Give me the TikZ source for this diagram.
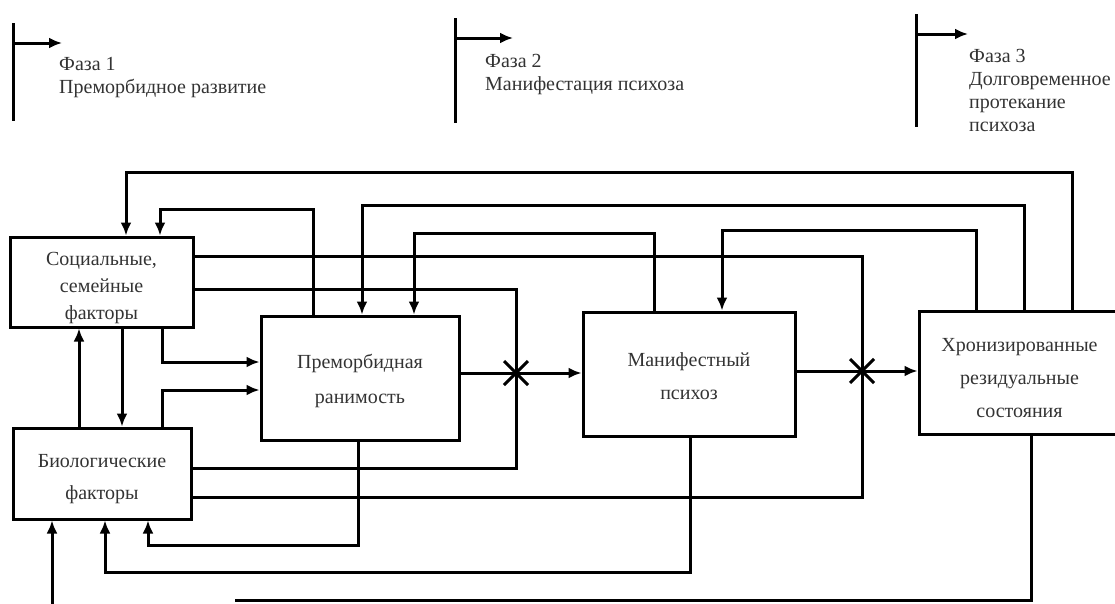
\documentclass[tikz,border=0pt]{standalone}
\usepackage{fontspec}
\setmainfont{Liberation Serif}
\usetikzlibrary{arrows.meta,shapes.misc}
\begin{document}
\begin{tikzpicture}[x=1pt,y=-1pt,
  box/.style={draw, line width=3pt, inner sep=0pt, align=center, text=black!80},
  conn/.style={line width=3pt},
  arr/.style={conn, -{Latex[length=13pt,width=11pt]}},
  lbl/.style={inner sep=0pt, align=left, anchor=base west, text=black!80, font=\fontsize{20}{23}\selectfont},
  xmark/.style={cross out, draw, line width=3pt, minimum size=21pt, inner sep=0pt}]
\useasboundingbox (0,0) rectangle (1115,603);

% phase markers
\coordinate (p1t) at (13,23);  \coordinate (p1b) at (13,121);
\coordinate (p2t) at (455,18); \coordinate (p2b) at (455,123);
\coordinate (p3t) at (916,14); \coordinate (p3b) at (916,127);
\draw[conn] (p1t) -- (p1b);
\draw[conn] (p2t) -- (p2b);
\draw[conn] (p3t) -- (p3b);
\coordinate (a1) at (62,43);  \coordinate (a2) at (513,38); \coordinate (a3) at (968,34);
\draw[arr] (p1t |- a1) -- (a1);
\draw[arr] (p2t |- a2) -- (a2);
\draw[arr] (p3t |- a3) -- (a3);
\node[lbl] (f1) at (59,93) {Фаза 1\\Преморбидное развитие};
\node[lbl] (f2) at (485,90) {Фаза 2\\Манифестация психоза};
\node[lbl] (f3) at (969,131) {Фаза 3\\Долговременное\\протекание\\психоза};

% boxes
\node[box, minimum width=183pt, minimum height=90pt, font=\fontsize{20}{27}\selectfont] (S) at (101.5,282) {\rule{0pt}{25pt}Социальные,\\семейные\\факторы};
\node[box, minimum width=178pt, minimum height=91pt, font=\fontsize{20}{32}\selectfont] (B) at (102,473.5) {\rule{0pt}{25pt}Биологические\\факторы};
\node[box, minimum width=198pt, minimum height=124pt, font=\fontsize{20}{35}\selectfont] (P) at (360,378) {\rule{0pt}{21pt}Преморбидная\\ранимость};
\node[box, minimum width=212pt, minimum height=124pt, font=\fontsize{20}{33}\selectfont] (M) at (689,374) {\rule{0pt}{19pt}Манифестный\\психоз};
\node[box, minimum width=201pt, minimum height=123pt, font=\fontsize{20}{33}\selectfont] (C) at (1019.5,372.5) {\rule{0pt}{25pt}Хронизированные\\резидуальные\\состояния};

% interaction marks
\node[xmark] (X1) at (516,373) {};
\node[xmark] (X2) at (862,371) {};

% main flow
\draw[conn] (P.east |- X1) -- (X1.center);
\draw[arr] (X1.center) -- (M.west |- X1);
\draw[conn] (M.east |- X2) -- (X2.center);
\draw[arr] (X2.center) -- (C.west |- X2);

% inputs into the interaction marks
\draw[conn] (S.east |- 0,256) -- (862,256) -- (X2.center);
\draw[conn] (S.east |- 0,289) -- (516,289) -- (X1.center);
\draw[conn] (B.east |- 0,468) -- (516,468) -- (X1.center);
\draw[conn] (B.east |- 0,497) -- (862,497) -- (X2.center);

% top feedback
\draw[arr] (1072,0 |- C.north) -- (1072,172) -- (126,172) -- (126,0 |- S.north);
\draw[arr] (313,0 |- P.north) -- (313,209) -- (160,209) -- (160,0 |- S.north);
\draw[arr] (1024,0 |- C.north) -- (1024,205) -- (362,205) -- (362,0 |- P.north);
\draw[arr] (654,0 |- M.north) -- (654,233) -- (414,233) -- (414,0 |- P.north);
\draw[arr] (976,0 |- C.north) -- (976,230) -- (722,230) -- (722,0 |- M.north);

% social <-> biological, and into premorbid
\draw[arr] (79,0 |- B.north) -- (79,0 |- S.south);
\draw[arr] (122,0 |- S.south) -- (122,0 |- B.north);
\draw[arr] (162,0 |- S.south) -- (162,362) -- (P.west |- 0,362);
\draw[arr] (162,0 |- B.north) -- (162,390) -- (P.west |- 0,390);

% bottom feedback
\draw[arr] (358,0 |- P.south) -- (358,545) -- (148,545) -- (148,0 |- B.south);
\draw[arr] (690,0 |- M.south) -- (690,572) -- (105,572) -- (105,0 |- B.south);
\coordinate (cend) at (235,600);
\draw[conn] (1031,0 |- C.south) -- (1031,600) -- (cend);
\coordinate (bin) at (52,606);
\draw[arr] (bin) -- (bin |- B.south);
\end{tikzpicture}
\end{document}
